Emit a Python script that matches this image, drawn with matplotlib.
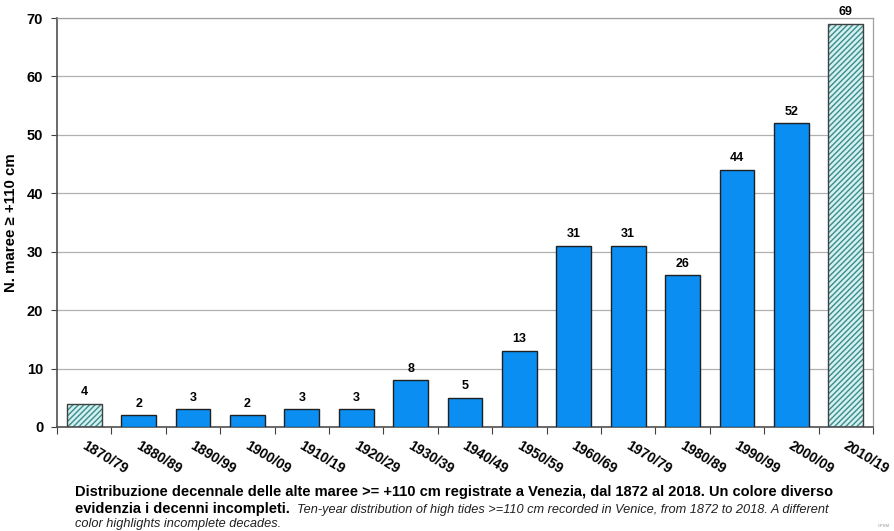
import numpy as np
import matplotlib.pyplot as plt

plt.rcParams['font.family'] = ['Liberation Sans', 'DejaVu Sans']

# Dati: decenni e numero di alte maree >= +110 cm
decenni = ["1870/79", "1880/89", "1890/99", "1900/09", "1910/19", "1920/29",
           "1930/39", "1940/49", "1950/59", "1960/69", "1970/79", "1980/89",
           "1990/99", "2000/09", "2010/19"]
maree = [4, 2, 3, 2, 3, 3, 8, 5, 13, 31, 31, 26, 44, 52, 69]
incompleti = ["1870/79", "2010/19"]

fig = plt.figure(figsize=(8.94, 5.31), dpi=100)
ax = fig.add_axes([0.0638, 0.196, 0.9127, 0.770])

x = np.arange(len(decenni))
blu = '#0A8EF2'

for i, (d, v) in enumerate(zip(decenni, maree)):
    if d in incompleti:
        # Sfondo tratteggiato per i decenni incompleti
        ax.bar(i, v, width=0.64, color='#D4F0F0', edgecolor='#3C8C8C',
               hatch='//////', linewidth=0, zorder=2)
        ax.bar(i, v, width=0.64, fill=False, edgecolor='#404040',
               linewidth=1.0, zorder=3)
    else:
        ax.bar(i, v, width=0.64, color=blu, edgecolor='#202020',
               linewidth=1.0, zorder=3)
    ax.annotate(str(v), (i, v), xytext=(0, 4), textcoords='offset points',
                ha='center', va='bottom', fontsize=9, fontweight='bold')

# Assi
ax.set_xlim(-0.5, len(decenni) - 0.5)
ax.set_ylim(0, 70)
ax.set_yticks(range(0, 71, 10))
ax.yaxis.grid(True, color='#B0B0B0', linewidth=0.9, zorder=0)
ax.set_axisbelow(True)
for lab in ax.get_yticklabels():
    lab.set_fontweight('bold')
    lab.set_fontsize(10.5)
ax.tick_params(axis='y', length=4, color='#404040', pad=6)
ax.set_ylabel("N. maree ≥ +110 cm", fontsize=10.8, fontweight='bold', labelpad=6)

# Tick sull'asse x fra le categorie
ax.set_xticks(np.arange(len(decenni) + 1) - 0.5, minor=False)
ax.set_xticklabels([])
ax.tick_params(axis='x', length=5, color='#404040', direction='out')
for i, d in enumerate(decenni):
    ax.text(i + 0.04, -2.0, d, rotation=-31, ha='left', va='top',
            fontsize=10, fontweight='bold', rotation_mode='anchor')

for s in ['left', 'bottom']:
    ax.spines[s].set_color('#505050')
    ax.spines[s].set_linewidth(1.2)
for s in ['top', 'right']:
    ax.spines[s].set_color('#A0A0A0')
    ax.spines[s].set_linewidth(0.9)

# Didascalia
fig.text(0.084, 0.065, "Distribuzione decennale delle alte maree >= +110 cm registrate a Venezia, "
         "dal 1872 al 2018. Un colore diverso", fontsize=10.5, fontweight='bold', va='baseline')
fig.text(0.084, 0.034, "evidenzia i decenni incompleti.", fontsize=10.5,
         fontweight='bold', va='baseline')
fig.text(0.332, 0.034, "Ten-year distribution of high tides >=110 cm recorded in Venice, "
         "from 1872 to 2018. A different", fontsize=9.2, style='italic', va='baseline',
         color='#202020')
fig.text(0.084, 0.007, "color highlights incomplete decades.", fontsize=9.2,
         style='italic', va='baseline', color='#202020')
fig.text(0.995, 0.008, "CPSM", fontsize=3, color='#909090', ha='right')

fig.savefig("out.png", dpi=100)
